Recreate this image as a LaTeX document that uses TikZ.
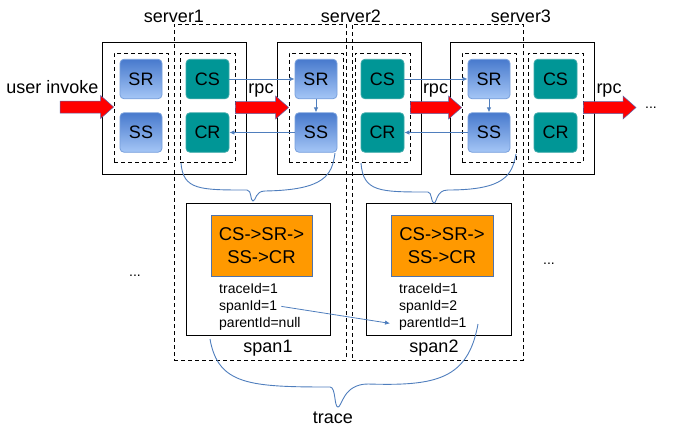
\documentclass[tikz,border=0pt]{standalone}
\usepackage{fontspec}
\setmainfont{Liberation Sans}
\usetikzlibrary{calc,arrows.meta}
\definecolor{conn}{RGB}{79,126,189}
\definecolor{bluetop}{RGB}{72,122,205}
\definecolor{bluebot}{RGB}{165,198,246}
\definecolor{blueedge}{RGB}{120,160,220}
\definecolor{tealfill}{RGB}{0,150,150}
\definecolor{tealedge}{RGB}{60,170,170}
\definecolor{orangefill}{RGB}{255,153,0}
\definecolor{orangeedge}{RGB}{80,115,170}
\definecolor{arrowedge}{RGB}{90,100,170}
\newcommand\myredarrow[2]{%
  \filldraw[redarrow] let \p1=(#1), \p2=(#2) in
   (\x1,\y1+6pt) -- (\x2-13pt,\y1+6pt) -- (\x2-13pt,\y1+11.5pt) -- (\x2,\y1)
   -- (\x2-13pt,\y1-11.5pt) -- (\x2-13pt,\y1-6pt) -- (\x1,\y1-6pt) -- cycle;}
\tikzset{
  big/.style={font=\fontsize{18}{22}\selectfont, inner sep=0pt},
  small/.style={font=\fontsize{14}{17}\selectfont, inner sep=0pt, anchor=base west},
  srv/.style={draw=black, line width=1pt, minimum width=144, minimum height=132, inner sep=0pt},
  grp/.style={draw=black, line width=0.8pt, dash pattern=on 4pt off 3pt, inner sep=0pt},
  region/.style={draw=black, line width=0.8pt, dash pattern=on 4pt off 3pt, inner sep=0pt},
  srbox/.style={draw=blueedge, line width=0.8pt, rounded corners=4pt, top color=bluetop, bottom color=bluebot,
     minimum width=42, minimum height=39.5, inner sep=0pt, font=\fontsize{18}{22}\selectfont},
  csbox/.style={draw=tealedge, line width=0.8pt, rounded corners=4pt, fill=tealfill,
     minimum width=43, minimum height=39.5, inner sep=0pt, font=\fontsize{18}{22}\selectfont},
  spanbox/.style={draw=black, line width=1pt, minimum width=144, minimum height=132, inner sep=0pt},
  seqbox/.style={draw=orangeedge, line width=0.8pt, fill=orangefill, minimum width=101, minimum height=61,
     inner sep=0pt, align=center, font=\fontsize{18.5}{23}\selectfont},
  conn/.style={draw=conn, line width=0.8pt, -{Latex[length=5pt,width=4.5pt]}},
  brace/.style={draw=conn, line width=0.9pt},
  redarrow/.style={fill=red, draw=arrowedge, line width=0.5pt},
}
\begin{document}
\begin{tikzpicture}[x=1pt,y=-1pt]
\useasboundingbox (0,0) rectangle (673,432);
% dashed regions
\node[region, minimum width=172, minimum height=336] (R1) at (260,192) {};
\node[region, minimum width=171, minimum height=336] (R2) at (437.5,192) {};
% server boxes
\node[srv] (S1) at (174,108) {};
\node[srv] (S2) at (349,108) {};
\node[srv] (S3) at (522,108) {};
% inner groups
\foreach \i/\x in {1/102,2/277,3/450}{
  \node[grp, minimum width=54, minimum height=109] (G\i a) at (\x+39,107.5) {};
  \node[grp, minimum width=55, minimum height=109] (G\i b) at (\x+105.5,107.5) {};
  \node[srbox] (SR\i) at (\x+39,79) {SR};
  \node[srbox] (SS\i) at (\x+39,132.5) {SS};
  \node[csbox] (CS\i) at (\x+105.5,79) {CS};
  \node[csbox] (CR\i) at (\x+105.5,132.5) {CR};
}
% labels
\node[big, anchor=base] (l1) at (174,22) {server1};
\node[big, anchor=base] (l2) at (351,22) {server2};
\node[big, anchor=base] (l3) at (521,22) {server3};
\node[big, anchor=base] (ui) at (52.5,93) {user invoke};
\node[big, anchor=base] (rpc1) at (261,93) {rpc};
\node[big, anchor=base] (rpc2) at (435.5,93) {rpc};
\node[big, anchor=base] (rpc3) at (609,93) {rpc};
\node[small] (dots1) at (645,108) {...};
\node[small] (dots2) at (129,276) {...};
\node[small] (dots3) at (543,264) {...};
% red arrows
\coordinate (a0) at (60,107);
\coordinate (a4) at (636,107);
\myredarrow{a0}{G1a.west}
\myredarrow{G1b.east}{G2a.west}
\myredarrow{G2b.east}{G3a.west}
\myredarrow{G3b.east}{a4}
% rpc connectors
\draw[conn] (CS1) -- (SR2);
\draw[conn] (SR2) -- (SS2);
\draw[conn] (SS2) -- (CR1);
\draw[conn] (CS2) -- (SR3);
\draw[conn] (SR3) -- (SS3);
\draw[conn] (SS3) -- (CR2);
% spans
\node[spanbox] (P1) at (258,269) {};
\node[spanbox, minimum width=145] (P2) at (438.5,269) {};
\node[seqbox] (Q1) at (261.5,245.5) {CS->SR->\\SS->CR};
\node[seqbox, minimum width=102] (Q2) at (442,245.5) {CS->SR->\\SS->CR};
\node[small] (t1) at (219,293) {traceId=1};
\node[small] (s1) at (219,310) {spanId=1};
\node[small] (p1) at (219,327) {parentId=null};
\node[small] (t2) at (399,293) {traceId=1};
\node[small] (s2) at (399,310) {spanId=2};
\node[small] (p2) at (399,327) {parentId=1};
\node[big, anchor=base] (sp1) at (268,352) {span1};
\node[big, anchor=base] (sp2) at (434,352) {span2};
\node[big, anchor=base] (tr) at (333,423) {trace};
\draw[conn] ([xshift=4pt]s1.east) -- ([xshift=-9pt]p2.west);
% braces
\draw[brace] (181,163) .. controls (183,190) and (200,190) .. (247,190)
  .. controls (252,190) and (250,201) .. (253,201)
  .. controls (256,201) and (255,191) .. (265,191)
  .. controls (325,190) and (332,175) .. (335,153);
\draw[brace] (361,163) .. controls (363,192) and (380,192) .. (428,192)
  .. controls (432,192) and (431,203) .. (434,203)
  .. controls (437,203) and (436,190) .. (448,190)
  .. controls (505,190) and (512,175) .. (516,154);
\draw[brace] (210,339) .. controls (218,385) and (250,387) .. (330,387)
  .. controls (336,387) and (334,407) .. (338,407)
  .. controls (342,407) and (343,384) .. (368,384)
  .. controls (435,386) and (468,380) .. (478,324);
\end{tikzpicture}
\end{document}
